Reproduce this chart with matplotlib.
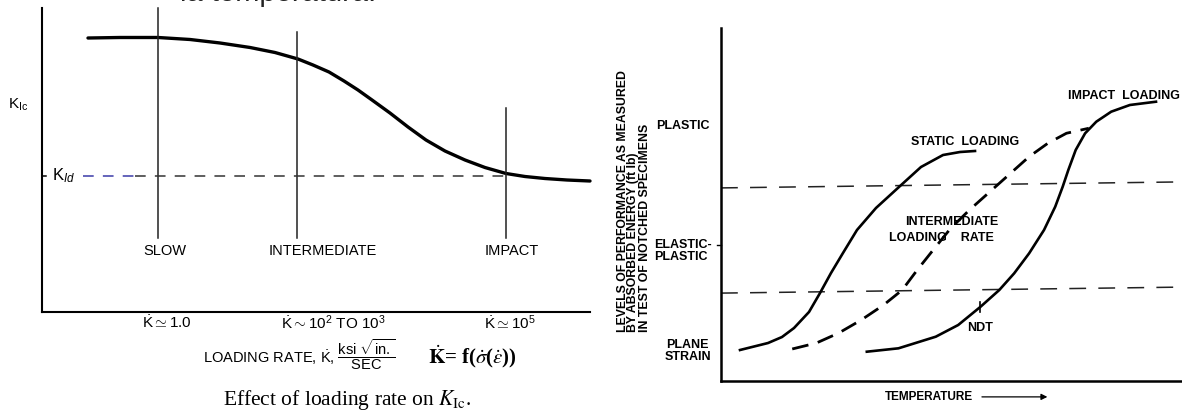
import numpy as np
import matplotlib
matplotlib.use('Agg')
import matplotlib.pyplot as plt

plt.rcParams['font.family'] = ['Liberation Sans', 'DejaVu Sans']
plt.rcParams['mathtext.fontset'] = 'custom'
plt.rcParams['mathtext.rm'] = 'Liberation Sans'
plt.rcParams['mathtext.it'] = 'Liberation Sans:italic'
plt.rcParams['mathtext.bf'] = 'Liberation Sans:bold'
plt.rcParams['mathtext.sf'] = 'Liberation Sans'

# ---- left panel data (x: loading rate, y: K_Ic, both 0-100 schematic units)
rate_x = [8.39, 14.23, 21.17, 27.01, 32.48, 37.96, 42.52, 46.72, 49.45, 52.37,
          55.11, 57.66, 60.22, 63.50, 66.79, 70.07, 73.54, 77.19, 80.84, 84.67,
          88.14, 91.79, 95.80, 100.0]
kic_y = [90.13, 90.30, 90.30, 89.64, 88.49, 87.01, 85.36, 83.22, 81.25, 78.95,
         75.99, 73.03, 69.74, 65.46, 60.86, 56.58, 52.96, 50.00, 47.53, 45.56,
         44.57, 43.91, 43.42, 43.09]
kid_level = 44.7
regime_names = ['SLOW', 'INTERMEDIATE', 'IMPACT']
regime_x = [21.2, 46.5, 84.7]
regime_top = [100.0, 92.1, 67.1]
regime_label_x = [22.4, 51.3, 85.8]
rate_ticks = [r'$\dot{\mathrm{K}}\simeq 1.0$',
              r'$\dot{\mathrm{K}}\sim 10^{2}\ \mathrm{TO}\ 10^{3}$',
              r'$\dot{\mathrm{K}}\simeq 10^{5}$']
rate_tick_x = [22.8, 53.1, 85.4]

# ---- right panel data (x: temperature, y: absorbed energy, 0-100 units)
static_x = [4.12, 10.20, 13.23, 15.84, 19.09, 21.48, 23.86, 26.46, 29.50, 33.62,
            38.61, 43.38, 48.16, 51.84, 55.10]
static_y = [8.78, 10.76, 12.46, 15.01, 19.55, 24.93, 30.59, 36.26, 42.78, 49.01,
            54.96, 60.62, 64.02, 64.87, 65.16]
inter_x = [15.45, 20.69, 25.55, 30.41, 35.27, 39.31, 42.56, 46.59, 49.83, 53.88,
           57.94, 61.98, 66.84, 70.89, 74.93, 79.78]
inter_y = [9.07, 10.76, 13.60, 17.28, 21.53, 25.78, 31.44, 38.05, 43.26, 48.44,
           53.17, 57.88, 63.55, 67.34, 70.18, 71.60]
impact_x = [31.63, 38.50, 46.59, 51.45, 56.31, 60.37, 63.60, 66.84, 70.07, 72.50,
            74.12, 75.34, 76.94, 78.98, 81.41, 84.64, 88.70, 94.36]
impact_y = [8.30, 9.26, 12.55, 15.86, 21.05, 25.78, 30.51, 36.17, 42.78, 49.38,
            55.04, 59.77, 65.44, 70.16, 73.46, 76.29, 78.19, 79.12]
upper_level = [54.7, 56.4]
lower_level = [24.9, 26.6]
ndt_x = 56.2
ylabel_lines = ['LEVELS OF PERFORMANCE AS MEASURED',
                'BY ABSORBED ENERGY (ft lb)',
                'IN TEST OF NOTCHED SPECIMENS']

W, H = 1182, 412
fig = plt.figure(figsize=(W / 100, H / 100), dpi=100)
fig.patch.set_facecolor('white')

# cut-off text from the slide above
fig.text(180 / W, 1 - 1 / H, 'la temperatura.', fontsize=21, color='#222222',
         ha='left', va='baseline')

# ================= left panel =================
ax = fig.add_axes([42 / W, 100 / H, 548 / W, 304 / H])
ax.set_xlim(0, 100)
ax.set_ylim(0, 100)
for s in ['top', 'right']:
    ax.spines[s].set_visible(False)
ax.spines['left'].set_linewidth(1.5)
ax.spines['bottom'].set_linewidth(1.5)
ax.set_xticks([])
ax.set_yticks([])
ax.patch.set_alpha(0)

ax.plot(rate_x, kic_y, color='black', lw=2.4, solid_capstyle='round',
        solid_joinstyle='round', clip_on=False)
for xv, top in zip(regime_x, regime_top):
    ax.plot([xv, xv], [24.5, top], color='#222222', lw=1.1, clip_on=False)
for name, lx in zip(regime_names, regime_label_x):
    ax.text(lx, 20.1, name, ha='center', va='center', fontsize=10.5)
for lab, lx in zip(rate_ticks, rate_tick_x):
    ax.text(lx, -3.6, lab, ha='center', va='center', fontsize=11)

ax.plot([7.5, 17.0], [kid_level, kid_level], color='#3a3aa8', lw=1.1, dashes=(7, 6))
ax.plot([17.0, regime_x[2]], [kid_level, kid_level], color='#333333', lw=1.1, dashes=(7, 6))
ax.plot([0, 0.8], [kid_level, kid_level], color='black', lw=1.1, clip_on=False)
ax.text(1.8, kid_level, r'K$_{Id}$', ha='left', va='center', fontsize=12)
ax.text(-6.2, 68.1, r'K$_{\mathrm{Ic}}$', ha='left', va='center', fontsize=11)

ax.text(29.4, -14.1,
        r'LOADING RATE, $\dot{\mathrm{K}}$, $\dfrac{\mathrm{ksi}\ \sqrt{\mathrm{in.}}}{\mathrm{SEC}}$',
        ha='left', va='center', fontsize=10.5)
ax.text(70.4, -14.8, r'$\dot{\mathbf{K}}$= f($\dot{\sigma}$($\dot{\varepsilon}$))',
        ha='left', va='center', fontsize=15, family='Liberation Serif',
        weight='bold', math_fontfamily='stix')
ax.text(55.7, -28.9, r'Effect of loading rate on $K_{\mathrm{Ic}}$.',
        ha='center', va='center', fontsize=15.5, family='Liberation Serif',
        math_fontfamily='stix')

# ================= right panel =================
bx = fig.add_axes([721 / W, 31 / H, 461 / W, 353 / H])
bx.set_xlim(0, 100)
bx.set_ylim(0, 100)
for s in ['top', 'right']:
    bx.spines[s].set_visible(False)
bx.spines['left'].set_linewidth(1.8)
bx.spines['bottom'].set_linewidth(1.8)
bx.set_xticks([])
bx.set_yticks([])
bx.patch.set_alpha(0)

bx.plot([0, 100], upper_level, color='#222222', lw=1.1, dashes=(11, 8))
bx.plot([0, 100], lower_level, color='#222222', lw=1.1, dashes=(11, 8))
bx.plot(static_x, static_y, color='black', lw=1.9, solid_joinstyle='round')
bx.plot(inter_x, inter_y, color='black', lw=2.0, dashes=(6, 3.5))
bx.plot(impact_x, impact_y, color='black', lw=1.9, solid_joinstyle='round')
bx.plot([ndt_x, ndt_x], [19.5, 22.4], color='black', lw=1.2)

lab_kw = dict(fontsize=9, weight='bold')
bx.text(-14.1, 72.2, 'PLASTIC', ha='left', va='center', **lab_kw)
bx.text(-14.5, 36.8, 'ELASTIC-\nPLASTIC', ha='left', va='center',
        linespacing=1.0, **lab_kw)
bx.text(-2.2, 8.5, 'PLANE\nSTRAIN', ha='right', va='center',
        multialignment='center', linespacing=1.0, **lab_kw)
bx.plot([-0.8, 0], [38.5, 38.5], color='black', lw=1.0, clip_on=False)

for line, lx in zip(ylabel_lines, [-21.3, -19.0, -16.5]):
    bx.text(lx, 13.9, line, rotation=90, rotation_mode='anchor',
            ha='left', va='center', fontsize=8.8, weight='bold')

bx.text(52.9, 67.7, 'STATIC  LOADING', ha='center', va='center', **lab_kw)
bx.text(50.1, 45.0, 'INTERMEDIATE', ha='center', va='center', **lab_kw)
bx.text(47.8, 40.5, 'LOADING    RATE', ha='center', va='center', **lab_kw)
bx.text(87.4, 80.7, 'IMPACT  LOADING', ha='center', va='center', **lab_kw)
bx.text(ndt_x, 15.0, 'NDT', ha='center', va='center', **lab_kw)

bx.text(45.2, -4.5, 'TEMPERATURE', ha='center', va='center', fontsize=8.5, weight='bold')
bx.annotate('', xy=(71.4, -4.5), xytext=(56.0, -4.5), xycoords='data',
            annotation_clip=False,
            arrowprops=dict(arrowstyle='-|>', color='black', lw=0.9,
                            mutation_scale=9))

fig.savefig('out.png', dpi=100, facecolor='white')
